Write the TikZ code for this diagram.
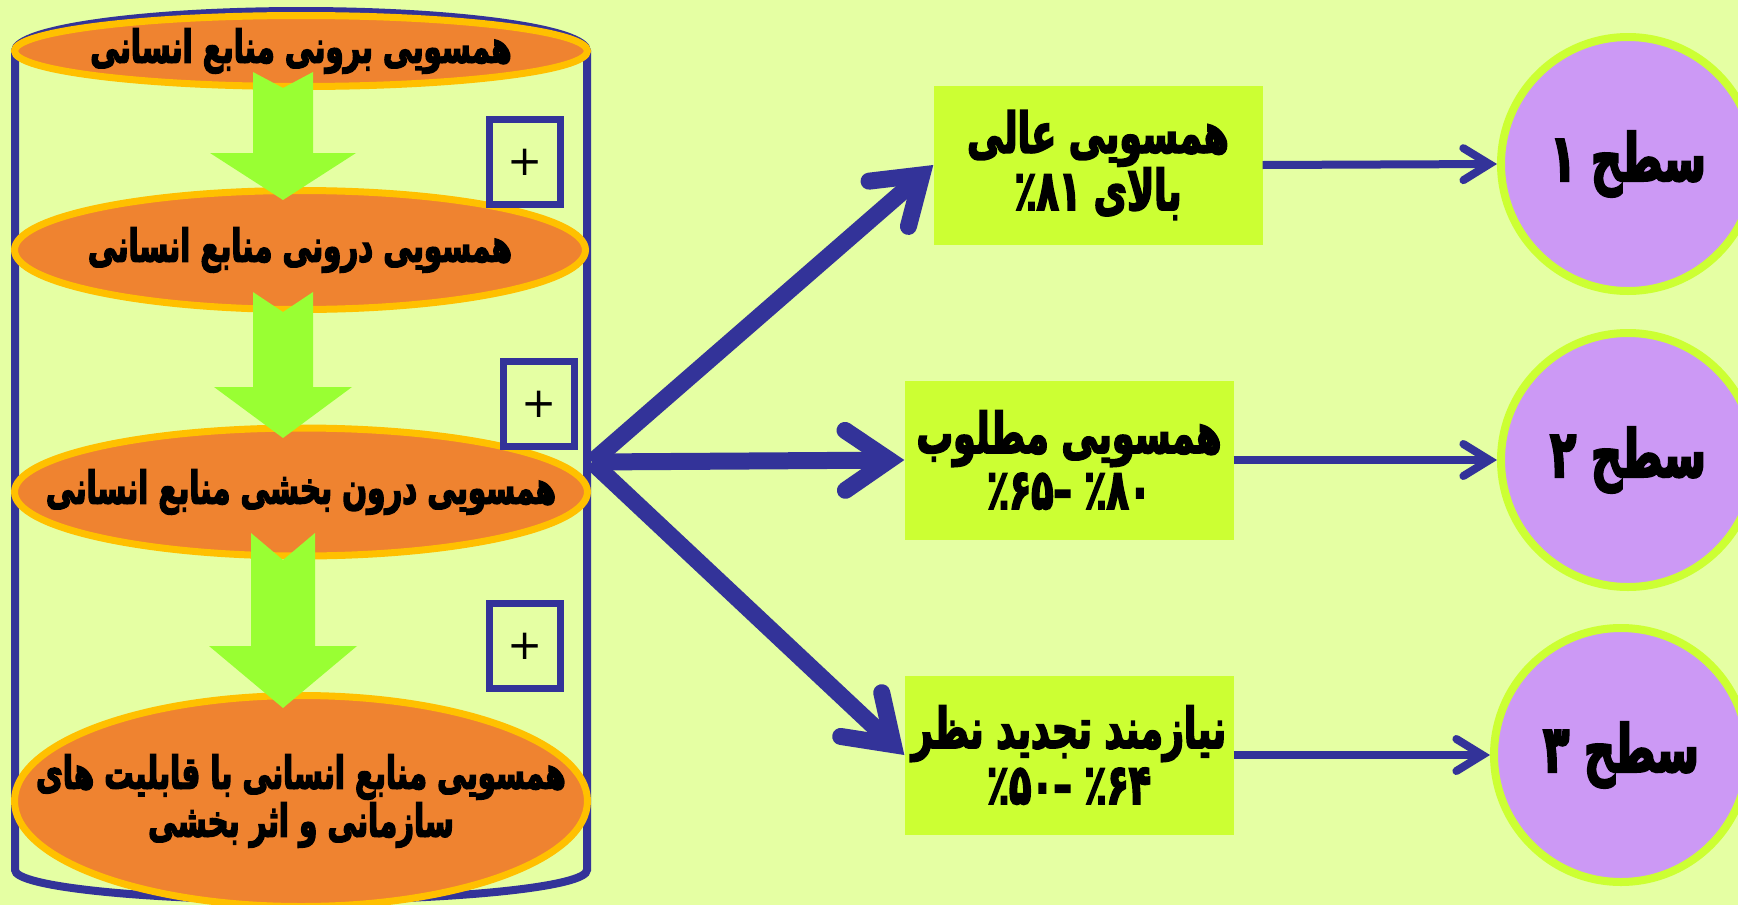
\documentclass[tikz,border=0pt]{standalone}
\usepackage{fontspec}
\usetikzlibrary{shapes.geometric, arrows.meta, positioning}
\TeXXeTstate=1
\newfontfamily\fa[Script=Arabic, FakeStretch=0.65, BoldFeatures={FakeBold=3}]{DejaVu Sans}
\newfontfamily\plain{DejaVu Sans}
\definecolor{bgcol}{HTML}{E5FFA3}
\definecolor{layercol}{HTML}{EF8330}
\definecolor{ringcol}{HTML}{FFC000}
\definecolor{flowcol}{HTML}{99FF33}
\definecolor{navy}{HTML}{333399}
\definecolor{ratecol}{HTML}{CCFF33}
\definecolor{levelcol}{HTML}{CC99F5}

\begin{document}
\begin{tikzpicture}[x=1pt, y=-1pt,
    layer/.style={ellipse, draw=ringcol, fill=layercol, line width=7pt, inner sep=0pt},
    layertext/.style={font=\fa\bfseries\fontsize{45}{48}\selectfont, align=center},
    tube/.style={draw=navy, line width=8pt},
    flow/.style={fill=flowcol},
    plusbox/.style={draw=navy, line width=7pt, minimum width=71pt, minimum height=85pt,
        font=\plain\fontsize{42}{42}\selectfont},
    rate/.style={fill=ratecol, minimum width=329pt, minimum height=159pt, inner sep=0pt},
    ratetext/.style={font=\fa\bfseries\fontsize{56}{56}\selectfont, align=center},
    level/.style={circle, draw=ratecol, fill=levelcol, line width=8pt, minimum size=254pt,
        font=\fa\bfseries\fontsize{66}{66}\selectfont},
    link/.style={draw=navy, line width=17pt,
        -{Straight Barb[length=44pt, width=60pt, line cap=round, line join=miter]}},
    toLevel/.style={draw=navy, line width=8pt,
        -{Straight Barb[length=26pt, width=32pt, line cap=round, line join=miter]}}]

    % background
    \fill[bgcol] (0,0) rectangle (1738,905);
    \useasboundingbox (0,0) rectangle (1738,905);

    % cylinder
    \draw[tube] (15,51) -- (15,870) arc[start angle=180, end angle=0, x radius=286, y radius=30] -- (587,51)
        arc[start angle=0, end angle=-180, x radius=286, y radius=40];

    % layers
    \node[layer, minimum width=573pt, minimum height=71pt] (outer) at (301,51) {};
    \node[layer, minimum width=571pt, minimum height=119pt] (inner) at (300,250) {};
    \node[layer, minimum width=573pt, minimum height=128pt] (within) at (301,492) {};
    \node[layer, minimum width=573pt, minimum height=211pt] (org) at (301,801) {};

    % down arrows
    \foreach \top/\notch/\base/\tip/\sw/\hw in {72/88/153/200/30/73, 292/312/387/438/30/69, 533/560/646/708/32/74}
        \fill[flow] (283-\sw,\top) -- (283,\notch) -- (283+\sw,\top) -- (283+\sw,\base) -- (283+\hw,\base)
            -- (283,\tip) -- (283-\hw,\base) -- (283-\sw,\base) -- cycle;

    \node[layertext] at (outer) {\beginR همسویی برونی منابع انسانی\endR};
    \node[layertext] at (inner) {\beginR همسویی درونی منابع انسانی\endR};
    \node[layertext] at (within) {\beginR همسویی درون بخشی منابع انسانی\endR};
    \node[layertext] at (org) {\beginR همسویی منابع انسانی با قابلیت های\endR\\\beginR سازمانی و اثر بخشی\endR};

    % plus boxes
    \node[plusbox] (plus1) at (525,162) {+};
    \node[plusbox] (plus2) at (539,404) {+};
    \node[plusbox] (plus3) at (525,646) {+};

    % rates
    \node[rate] (high) at (1098,165) {};
    \node[rate] (good) at (1069,460) {};
    \node[rate] (review) at (1069,755) {};
    \node[ratetext] at (high) {\beginR همسویی عالی\endR\\\beginR بالای ٪۸۱\endR};
    \node[ratetext] at (good) {\beginR همسویی مطلوب\endR\\\beginR ٪۸۰ –٪۶۵\endR};
    \node[ratetext] at (review) {\beginR نیازمند تجدید نظر\endR\\\beginR ٪۶۴ –٪۵۰\endR};

    % levels
    \node[level] (lvl1) at (1628,164) {\beginR سطح ۱\endR};
    \node[level] (lvl2) at (1628,460) {\beginR سطح ۲\endR};
    \node[level] (lvl3) at (1621,755) {\beginR سطح ۳\endR};

    \coordinate (hub) at (592,462);
    \draw[link] (hub) -- (high.west);
    \draw[link] (hub) -- (good.west);
    \draw[link] (hub) -- (review.west);

    \draw[toLevel] (high.east) -- (lvl1.west);
    \draw[toLevel] (good.east) -- (lvl2.west);
    \draw[toLevel] (review.east) -- (lvl3.west);
\end{tikzpicture}
\end{document}
